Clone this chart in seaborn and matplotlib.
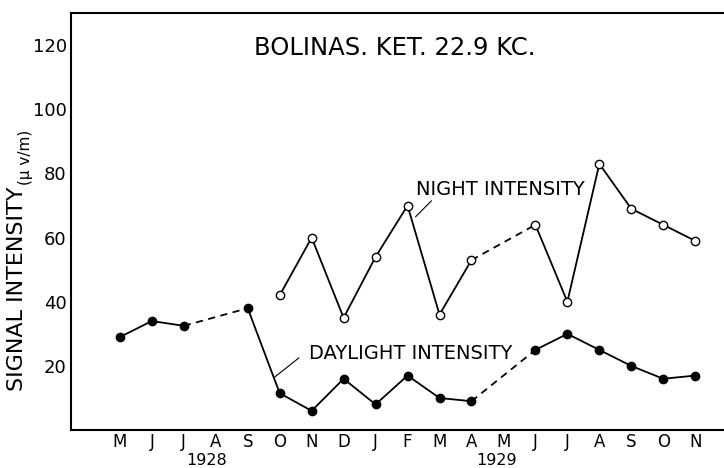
import numpy as np
import pandas as pd
import matplotlib
matplotlib.use("Agg")
import matplotlib.pyplot as plt
import seaborn as sns

# months from May 1928 to Nov 1929
months = ["M", "J", "J", "A", "S", "O", "N", "D", "J", "F", "M", "A",
          "M", "J", "J", "A", "S", "O", "N"]
daylight = [29, 34, 32.5, np.nan, 38, 11.5, 6, 16, 8, 17, 10, 9,
            np.nan, 25, 30, 25, 20, 16, 17]
night = [np.nan, np.nan, np.nan, np.nan, np.nan, 42, 60, 35, 54, 70, 36, 53,
         np.nan, 64, 40, 83, 69, 64, 59]
years = ["1928", "1929"]

sns.set_style("white")
plt.rcParams["font.family"] = ["DejaVu Sans"]
plt.rcParams["text.color"] = "black"
plt.rcParams["xtick.color"] = "black"
plt.rcParams["ytick.color"] = "black"
plt.rcParams["axes.labelcolor"] = "black"

fig = plt.figure(figsize=(7.24, 4.68), dpi=100)
ax = fig.add_axes([0.098, 0.081, 0.902, 0.891])

x = np.arange(len(months))


def draw_series(vals, filled):
    df = pd.DataFrame({"x": x, "y": vals})
    valid = df["y"].notna()
    # solid runs of consecutive points
    run_id = (valid != valid.shift()).cumsum()
    for _, grp in df[valid].groupby(run_id[valid]):
        sns.lineplot(data=grp, x="x", y="y", ax=ax, color="black", lw=1.3,
                     estimator=None, sort=False)
    # dashed bridges over missing months
    idx = df.index[valid].tolist()
    for a, b in zip(idx[:-1], idx[1:]):
        if b - a > 1:
            sns.lineplot(data=df.loc[[a, b]], x="x", y="y", ax=ax, color="black",
                         lw=1.3, linestyle=(0, (4, 3)), estimator=None, sort=False)
    sns.scatterplot(data=df[valid], x="x", y="y", ax=ax, s=36, zorder=5,
                    color="black" if filled else "white", edgecolor="black",
                    linewidth=1.0)


draw_series(daylight, True)
draw_series(night, False)

ax.set_xlim(-1.53, 18.9)
ax.set_ylim(0, 130)
ax.set_xticks(x)
ax.set_xticklabels(months, fontsize=12)
ax.set_yticks([20, 40, 60, 80, 100, 120])
ax.set_yticklabels(["20", "40", "60", "80", "100", "120"], fontsize=13)
ax.tick_params(axis="both", direction="in", length=5, width=1, color="black", pad=3)
ax.tick_params(axis="x", pad=2)
ax.set_xlabel("")

for side in ["left", "top", "bottom"]:
    ax.spines[side].set_visible(True)
    ax.spines[side].set_color("black")
    ax.spines[side].set_linewidth(1.5)
ax.spines["right"].set_visible(False)

# year labels under the month ticks
ax.text(2.7, -0.072, years[0], transform=ax.get_xaxis_transform(),
        ha="center", va="center", fontsize=11.5)
ax.text(11.8, -0.072, years[1], transform=ax.get_xaxis_transform(),
        ha="center", va="center", fontsize=11.5)

ax.text(8.6, 119, "BOLINAS. KET. 22.9 KC.", ha="center", va="center", fontsize=17.5)

ax.set_ylabel("SIGNAL INTENSITY", fontsize=16)
ax.yaxis.set_label_coords(-0.068, 0.34)
ax.text(-0.07, 0.655, "(μ v/m)", transform=ax.transAxes, rotation=90,
        ha="center", va="center", fontsize=11)

# series labels with leader lines
ax.text(11.9, 75, "NIGHT INTENSITY", ha="center", va="center", fontsize=14)
ax.plot([9.75, 9.25], [71.5, 66.5], color="black", lw=0.8)
ax.text(9.1, 24, "DAYLIGHT INTENSITY", ha="center", va="center", fontsize=14)
ax.plot([5.6, 4.84], [22.5, 16.5], color="black", lw=0.8)

fig.savefig("out.png", dpi=100)
